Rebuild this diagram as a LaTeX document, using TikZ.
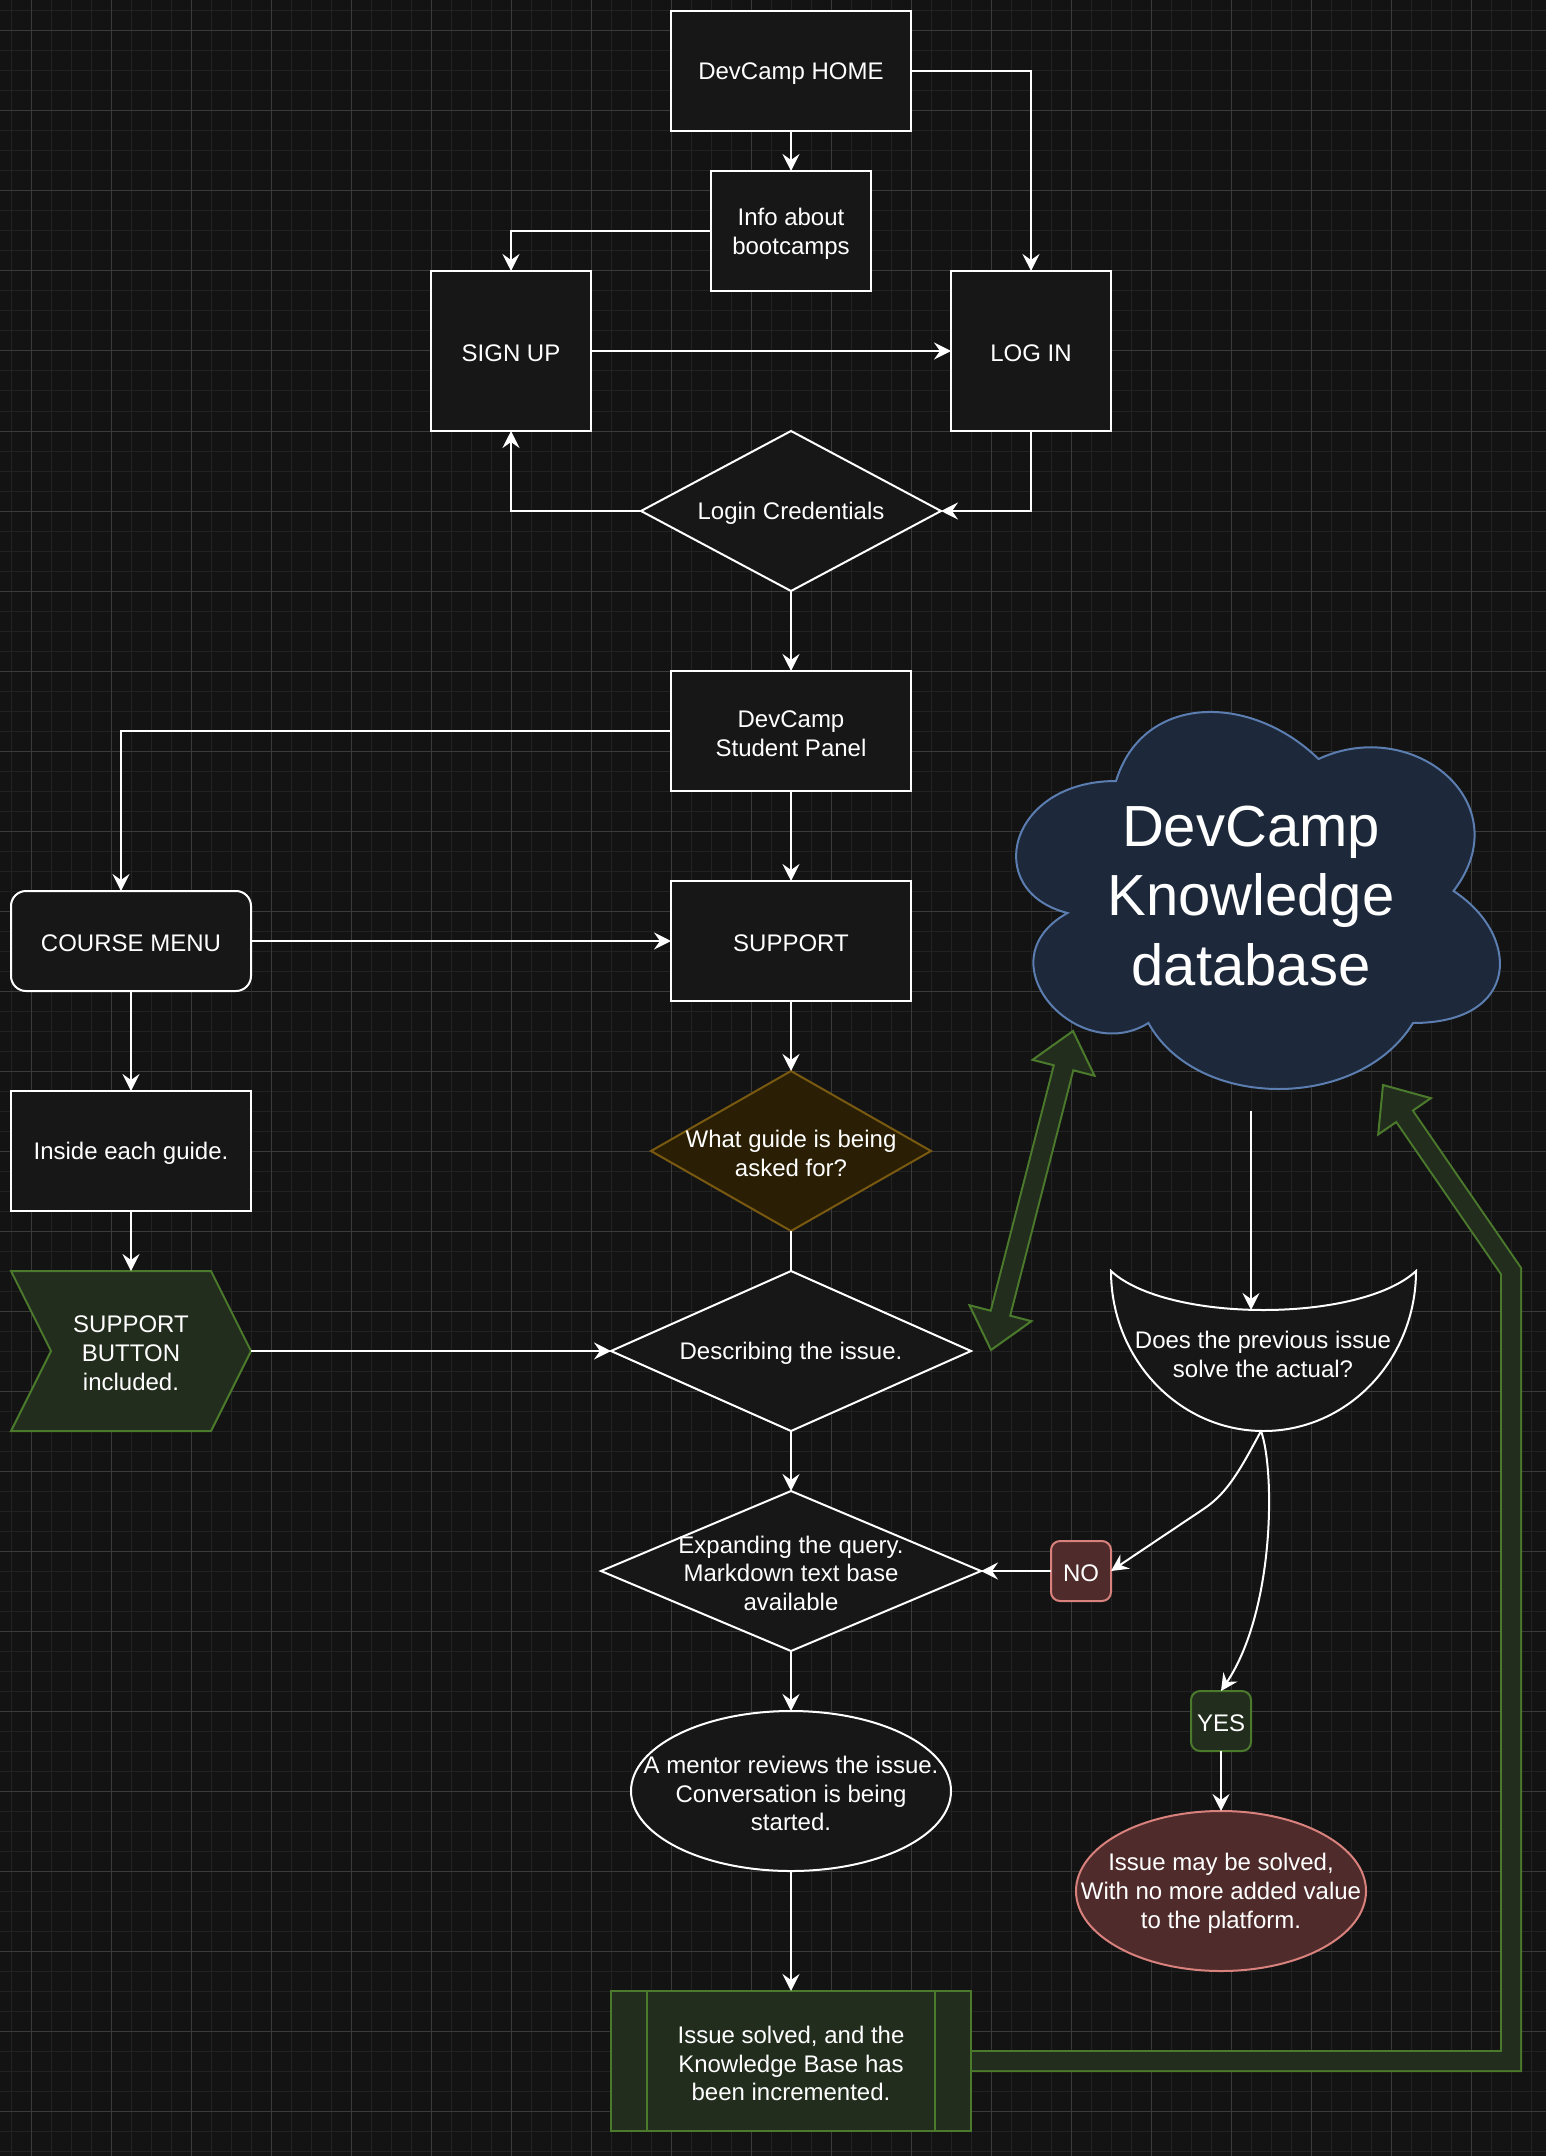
\documentclass[tikz,border=0pt]{standalone}
\usepackage{fontspec}
\setmainfont{Liberation Sans}
\usetikzlibrary{arrows.meta,calc,shapes.geometric}
\definecolor{bg}{HTML}{131313}
\definecolor{gridminor}{HTML}{222222}
\definecolor{gridmajor}{HTML}{3A3A3A}
\definecolor{boxfill}{HTML}{171717}
\definecolor{gfill}{HTML}{222D1E}
\definecolor{gstroke}{HTML}{4C7A2C}
\definecolor{rfill}{HTML}{4F2C2B}
\definecolor{rstroke}{HTML}{D9817D}
\definecolor{ofill}{HTML}{2A1F05}
\definecolor{ostroke}{HTML}{7A5A10}
\definecolor{cfill}{HTML}{1D293B}
\definecolor{cstroke}{HTML}{5B7DB0}
\begin{document}
\begin{tikzpicture}[x=0.5pt,y=-0.5pt,
  txt/.style={text=white, align=center, font=\fontsize{12}{14.4}\selectfont},
  T/.style={txt, yshift=-1.2pt},
  box/.style={rectangle, draw=white, line width=1pt, fill=boxfill, inner sep=0pt, outer sep=0pt},
  dia/.style={diamond, draw=white, line width=1pt, fill=boxfill, inner sep=0pt, outer sep=0pt},
  ell/.style={ellipse, draw=white, line width=1pt, fill=boxfill, inner sep=0pt, outer sep=0pt},
  conn/.style={draw=white, line width=1pt, -{Stealth[length=8.5pt,width=8.5pt,inset=3pt]}},
  plainline/.style={draw=white, line width=1pt},
  gshape/.style={draw=gstroke, fill=gfill, line width=1pt},
  flexout/.style={draw=gstroke, line width=11pt, line join=miter},
  flexin/.style={draw=gfill, line width=9pt, line join=miter},
]
\useasboundingbox (0,0) rectangle (1546,2156);
\fill[bg] (0,0) rectangle (1546,2156);
\foreach \x in {11,31,...,1546} \draw[gridminor, line width=0.5pt] (\x,0) -- (\x,2156);
\foreach \y in {11,31,...,2156} \draw[gridminor, line width=0.5pt] (0,\y) -- (1546,\y);
\foreach \x in {31,111,...,1546} \draw[gridmajor, line width=0.5pt] (\x,0) -- (\x,2156);
\foreach \y in {31,111,...,2156} \draw[gridmajor, line width=0.5pt] (0,\y) -- (1546,\y);

% --- top part
\node[box, minimum width=120pt, minimum height=60pt, label={[T]center:DevCamp HOME}] (home) at (791,71) {};
\node[box, minimum width=80pt, minimum height=60pt, label={[T]center:{Info about\\bootcamps}}] (info) at (791,231) {};
\node[box, minimum width=80pt, minimum height=80pt, label={[T]center:SIGN UP}] (signup) at (511,351) {};
\node[box, minimum width=80pt, minimum height=80pt, label={[T]center:LOG IN}] (login) at (1031,351) {};
\node[dia, minimum width=150pt, minimum height=80pt, label={[T]center:Login Credentials}] (cred) at (791,511) {};
\node[box, minimum width=120pt, minimum height=60pt, label={[T]center:{DevCamp\\Student Panel}}] (panel) at (791,731) {};
\node[box, rounded corners=7.5pt, minimum width=120pt, minimum height=50pt, label={[T]center:COURSE MENU}] (course) at (131,941) {};
\node[box, minimum width=120pt, minimum height=60pt, label={[T]center:SUPPORT}] (support) at (791,941) {};
\node[box, minimum width=120pt, minimum height=60pt, label={[T]center:Inside each guide.}] (guide) at (131,1151) {};

% step shape
\draw[gshape] (11,1271) -- (211,1271) -- (251,1351) -- (211,1431) -- (11,1431) -- (51,1351) -- cycle;
\node[rectangle, inner sep=0pt, outer sep=0pt, minimum width=120pt, minimum height=80pt, label={[T]center:{SUPPORT\\BUTTON\\included.}}] (stepbtn) at (131,1351) {};

\node[diamond, draw=ostroke, fill=ofill, line width=1pt, inner sep=0pt, outer sep=0pt, minimum width=140pt, minimum height=80pt, label={[T]center:{What guide is being\\asked for?}}] (what) at (791,1151) {};
\node[dia, minimum width=180pt, minimum height=80pt, label={[T]center:Describing the issue.}] (describe) at (791,1351) {};
\node[dia, minimum width=190pt, minimum height=80pt, label={[T]center:{Expanding the query.\\Markdown text base\\available}}] (expand) at (791,1571) {};
\node[ell, minimum width=160pt, minimum height=80pt, label={[T]center:{A mentor reviews the issue.\\Conversation is being\\started.}}] (mentor) at (791,1791) {};
\node[box, draw=gstroke, fill=gfill, minimum width=180pt, minimum height=70pt, label={[T]center:{Issue solved, and the\\Knowledge Base has\\been incremented.}}] (solved) at (791,2061) {};
\draw[draw=gstroke, line width=1pt] ($(solved.north west)+(36,0)$) -- ($(solved.south west)+(36,0)$);
\draw[draw=gstroke, line width=1pt] ($(solved.north east)+(-36,0)$) -- ($(solved.south east)+(-36,0)$);

% cloud
\draw[draw=cstroke, fill=cfill, line width=1pt]
  (1116,781) .. controls (1008,781) and (981,891) .. (1067.4,913)
  .. controls (981,961.4) and (1078.2,1067) .. (1148.4,1023)
  .. controls (1197,1111) and (1359,1111) .. (1413,1023)
  .. controls (1521,1023) and (1521,935) .. (1453.5,891)
  .. controls (1521,803) and (1413,715) .. (1318.5,759)
  .. controls (1251,693) and (1143,693) .. (1116,781) -- cycle;
\node[text=white, align=center, font=\fontsize{29}{34.8}\selectfont] (cloud) at (1251,896) {DevCamp\\Knowledge\\database};

% decision bowl
\draw[plainline, fill=boxfill] (1111,1271) arc[start angle=180, end angle=360, x radius=76.25pt, y radius=80pt]
  .. controls (1360,1323) and (1167,1323) .. (1111,1271) -- cycle;
\node[T] (does) at (1263,1352) {Does the previous issue\\solve the actual?};
\coordinate (doesb) at (1261,1431);
\coordinate (doestop) at (1251,1310);
\coordinate (cloudbot) at (1251,1111);

\node[box, draw=rstroke, fill=rfill, rounded corners=4.5pt, minimum width=30pt, minimum height=30pt, label={[T]center:NO}] (no) at (1081,1571) {};
\node[box, draw=gstroke, fill=gfill, rounded corners=4.5pt, minimum width=30pt, minimum height=30pt, label={[T]center:YES}] (yes) at (1221,1721) {};
\node[ellipse, draw=rstroke, fill=rfill, line width=1pt, inner sep=0pt, outer sep=0pt, minimum width=145pt, minimum height=80pt, label={[T]center:{Issue may be solved,\\With no more added value\\to the platform.}}] (maybe) at (1221,1891) {};

% --- connectors
\draw[conn] (home.south) -- (info.north);
\draw[conn] (home.east) -| (login.north);
\draw[conn] (info.west) -| (signup.north);
\draw[conn] (signup.east) -- (login.west);
\draw[conn] (login.south) |- (cred.east);
\draw[conn] (cred.west) -| (signup.south);
\draw[conn] (cred.south) -- (panel.north);
\coordinate (cin) at ($(course.north)+(-10,0)$);
\draw[conn] (panel.west) -| (cin);
\draw[conn] (panel.south) -- (support.north);
\draw[conn] (course.east) -- (support.west);
\draw[conn] (course.south) -- (guide.north);
\draw[conn] (guide.south) -- (stepbtn.north);
\draw[conn] (stepbtn.east) -- (describe.west);
\draw[conn] (support.south) -- (what.north);
\draw[plainline] (what.south) -- (describe.north);
\draw[conn] (describe.south) -- (expand.north);
\draw[conn] (expand.south) -- (mentor.north);
\draw[conn] (mentor.south) -- (solved.north);
\draw[conn] (no.west) -- (expand.east);
\draw[conn] (cloudbot) -- (doestop);
\draw[conn] (doesb) .. controls (1240,1470) and (1228,1492) .. (1205,1508) -- (no.east);
\draw[conn] (doesb) .. controls (1275,1470) and (1275,1610) .. (yes.north);
\draw[conn] (yes.south) -- (maybe.north);

% --- green flex arrows
\coordinate (da) at (991,1350);
\coordinate (db) at (1073,1031);
\path ($(da)!19pt!(db)$) coordinate (dab) ($(db)!19pt!(da)$) coordinate (dbb);
\draw[flexout] (dab) -- (dbb);
\draw[gshape, line join=miter] (da) -- ($(dab)!16pt!90:(da)$) -- ($(dab)!16pt!-90:(da)$) -- cycle;
\draw[gshape, line join=miter] (db) -- ($(dbb)!16pt!90:(db)$) -- ($(dbb)!16pt!-90:(db)$) -- cycle;
\draw[flexin] ($(dab)!-2pt!(dbb)$) -- ($(dbb)!-2pt!(dab)$);

\coordinate (fs) at ($(solved.east)+(1,0)$);
\coordinate (fa1) at (1511,2061);
\coordinate (fa2) at (1511,1271);
\coordinate (fatip) at (1383,1085);
\path ($(fatip)!19pt!(fa2)$) coordinate (fab);
\draw[flexout] (fs) -- (fa1) -- (fa2) -- (fab);
\draw[gshape, line join=miter] (fatip) -- ($(fab)!16pt!90:(fatip)$) -- ($(fab)!16pt!-90:(fatip)$) -- cycle;
\draw[flexin] (fs) -- (fa1) -- (fa2) -- ($(fab)!2pt!(fatip)$);
\end{tikzpicture}
\end{document}
